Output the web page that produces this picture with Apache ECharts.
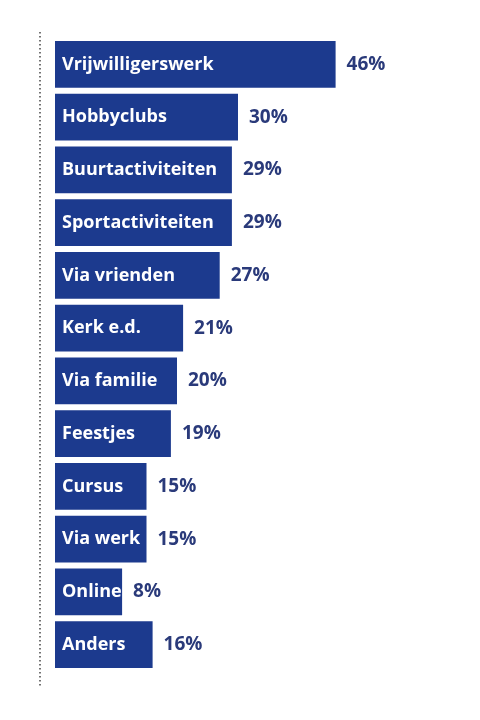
<!DOCTYPE html>
<html lang="nl">
<head>
    <meta charset="UTF-8">
    <title>Activiteiten</title>
    <script src="https://cdn.jsdelivr.net/npm/echarts@6/dist/echarts.min.js"></script>
    <style>
        html, body { margin: 0; padding: 0; background: #fff; }
        #main { width: 480px; height: 720px; }
    </style>
</head>
<body>
<div id="main"></div>
<script type="text/javascript">
    // categorieen en percentages (van boven naar beneden)
    var categories = ['Vrijwilligerswerk', 'Hobbyclubs', 'Buurtactiviteiten', 'Sportactiviteiten',
        'Via vrienden', 'Kerk e.d.', 'Via familie', 'Feestjes', 'Cursus', 'Via werk', 'Online', 'Anders'];
    var shares = [46, 30, 29, 29, 27, 21, 20, 19, 15, 15, 8, 16];
    // getekende balklengte zoals in het origineel (Online is breder getekend zodat de tekst past)
    var barLengths = [46, 30, 29, 29, 27, 21, 20, 19, 15, 15, 11, 16];

    var myChart = echarts.init(document.getElementById('main'));

    var option = {
        animation: false,
        grid: { left: 55, top: 38, bottom: 49, right: 120 },
        xAxis: {
            type: 'value', min: 0, max: 50, show: false
        },
        yAxis: {
            type: 'category', data: categories, inverse: true, show: false
        },
        graphic: [{
            type: 'line',
            shape: { x1: 40, y1: 32, x2: 40, y2: 688 },
            style: { stroke: '#444', lineWidth: 1.5, lineDash: [1.5, 2.5] }
        }],
        series: [
            {
                type: 'bar',
                data: barLengths,
                barCategoryGap: '11%',
                itemStyle: { color: '#1c3a8e' },
                label: {
                    show: true,
                    position: 'insideLeft',
                    distance: 7,
                    formatter: function (p) { return categories[p.dataIndex]; },
                    color: '#fff',
                    fontFamily: 'Open Sans',
                    fontWeight: 'bold',
                    fontSize: 18
                }
            },
            {
                // alleen voor de percentages rechts van de balk
                type: 'bar',
                data: barLengths,
                barGap: '-100%',
                barCategoryGap: '11%',
                itemStyle: { color: 'rgba(0,0,0,0)' },
                label: {
                    show: true,
                    position: 'right',
                    distance: 11,
                    formatter: function (p) { return shares[p.dataIndex] + '%'; },
                    color: '#2a3a7a',
                    fontFamily: 'Open Sans',
                    fontWeight: 'bold',
                    fontSize: 19
                }
            }
        ]
    };

    myChart.setOption(option);
</script>
</body>
</html>
